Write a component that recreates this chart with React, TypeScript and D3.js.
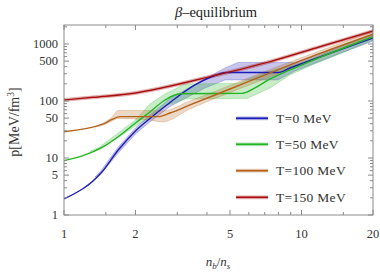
import React from "react";
import * as d3 from "d3";

// ---- data ----
const xTicksMajor = [1, 2, 5, 10, 20];
const xTicksMinor = [1.5, 3, 4, 6, 7, 8, 9, 15];
const yTicksMajor = [1, 5, 10, 50, 100, 500, 1000];
const yTicksMinor = [2, 3, 4, 6, 7, 8, 9, 20, 30, 40, 60, 70, 80, 90, 200, 300, 400, 600, 700, 800, 900, 2000];

const seriesNames = ["T=0 MeV", "T=50 MeV", "T=100 MeV", "T=150 MeV"];
const seriesColors = ["#1c1cb8", "#22b422", "#b5621b", "#a80f0f"];

const t0Nb = [1, 1.441, 1.692, 2, 2.3, 2.795, 3.56, 4.32, 4.81, 7.96, 8.94, 20];
const t0P = [1.91, 5.61, 13.8, 29.8, 49.3, 94.1, 191, 280, 316, 316, 379, 1274];

const t50Nb = [1, 1.464, 1.69, 2, 2.3, 2.663, 3.08, 5.62, 6.37, 7.37, 8.94, 20];
const t50P = [8.97, 15.8, 23.6, 41.1, 64.1, 104, 134, 136, 169, 243, 350, 1343];

const t100Nb = [1, 1.464, 1.593, 1.72, 2.488, 2.795, 3.39, 5.0, 7.37, 11.96, 20];
const t100P = [28.9, 39.5, 47.4, 53.1, 53.1, 61.6, 85.1, 162, 310, 681, 1480];

const t150Nb = [1, 1.325, 2, 2.54, 4.12, 7.37, 11.96, 20];
const t150P = [104, 116, 138, 167, 267, 490, 893, 1690];

// uncertainty bands
const b0Nb = [1.35, 1.418, 1.692, 2, 2.3, 2.795, 3.92, 4.76, 5.4, 7.96, 9.39, 10.35, 14.53, 20];
const b0Low = [4.64, 5.03, 12.2, 26.4, 42.8, 80.1, 169, 234, 234, 234, 336, 395, 681, 1129];
const b0High = [4.64, 5.68, 15.6, 33.6, 56.8, 110.7, 243, 379, 474, 474, 474, 546, 904, 1438];

const b50Nb = [1.287, 1.418, 2, 2.3, 2.663, 3.23, 5.4, 5.9, 7.37, 8.94, 10.35, 20];
const b50Low = [13.0, 14.1, 36.4, 52.4, 81.7, 108, 111, 111, 169, 286, 379, 1175];
const b50High = [13.0, 15.9, 46.4, 88.6, 133, 199, 203, 234, 336, 411, 493, 1528];

const b100Nb = [1.35, 1.464, 1.593, 1.692, 2.3, 2.586, 3.39, 7.37, 20];
const b100Low = [35.0, 37.9, 44.6, 49.3, 46.4, 42.8, 72.4, 264, 1327];
const b100High = [35.0, 41.1, 52.4, 68.1, 68.1, 66.8, 100, 357, 1657];

const b150Nb = [1, 1.325, 2, 2.54, 4.12, 7.37, 11.96, 20];
const b150Low = [98, 109, 130, 157, 251, 461, 840, 1590];
const b150High = [110.5, 123, 147, 177.5, 284, 521, 949, 1796];

const lines = [
  [t0Nb, t0P],
  [t50Nb, t50P],
  [t100Nb, t100P],
  [t150Nb, t150P],
];
const bands = [
  [b0Nb, b0Low, b0High],
  [b50Nb, b50Low, b50High],
  [b100Nb, b100Low, b100High],
  [b150Nb, b150Low, b150High],
];

const W = 380;
const H = 274;
const L = 64, R = 373, T = 25, B = 215;
const FONT = "'Liberation Serif', 'DejaVu Serif', serif";

export default function App() {
  const x = d3.scaleLog().domain([1, 20]).range([L, R]);
  const y = d3.scaleLog().domain([1, 2150]).range([B, T]);

  const lineGen = d3
    .line<[number, number]>()
    .x((d) => x(d[0]))
    .y((d) => y(d[1]))
    .curve(d3.curveMonotoneX);

  const bandGen = (smooth: boolean) =>
    d3
      .area<[number, number, number]>()
      .x((d) => x(d[0]))
      .y0((d) => y(d[1]))
      .y1((d) => y(d[2]))
      .curve(smooth ? d3.curveMonotoneX : d3.curveLinear);

  const frame = "#8a8a8a";
  const majorLen = 5;
  const minorLen = 3;

  const legendY = [118.3, 144.3, 170.7, 197.3];

  return (
    <svg
      width={W}
      height={H}
      style={{ position: "absolute", left: 0, top: 0, background: "#fff" }}
    >
      <defs>
        <clipPath id="plotclip">
          <rect x={L} y={T} width={R - L} height={B - T} />
        </clipPath>
      </defs>

      {/* title */}
      <text x={216} y={17} fontFamily={FONT} fontSize={14.5} textAnchor="middle" fill="#222">
        <tspan fontStyle="italic">β</tspan>–equilibrium
      </text>

      <g clipPath="url(#plotclip)">
        {bands.map((b, i) => {
          const pts = b[0].map((n, k) => [n, b[1][k], b[2][k]] as [number, number, number]);
          return (
            <path
              key={"b" + i}
              d={bandGen(i === 3 || i === 2)(pts) || ""}
              fill={seriesColors[i]}
              fillOpacity={i === 3 ? 0.22 : 0.25}
              stroke={seriesColors[i]}
              strokeOpacity={0.3}
              strokeWidth={0.8}
            />
          );
        })}
        {lines.map((s, i) => {
          const pts = s[0].map((n, k) => [n, s[1][k]] as [number, number]);
          return (
            <path
              key={"l" + i}
              d={lineGen(pts) || ""}
              fill="none"
              stroke={seriesColors[i]}
              strokeWidth={1.4}
            />
          );
        })}
      </g>

      {/* frame */}
      <rect x={L} y={T} width={R - L} height={B - T} fill="none" stroke={frame} strokeWidth={1} />

      {/* x ticks */}
      {xTicksMajor.map((t) => (
        <g key={"xM" + t}>
          <line x1={x(t)} x2={x(t)} y1={B} y2={B - majorLen} stroke={frame} />
          <line x1={x(t)} x2={x(t)} y1={T} y2={T + majorLen} stroke={frame} />
          <text x={x(t)} y={238} fontFamily={FONT} fontSize={12.5} textAnchor="middle" fill="#333">
            {t}
          </text>
        </g>
      ))}
      {xTicksMinor.map((t) => (
        <g key={"xm" + t}>
          <line x1={x(t)} x2={x(t)} y1={B} y2={B - minorLen} stroke={frame} />
          <line x1={x(t)} x2={x(t)} y1={T} y2={T + minorLen} stroke={frame} />
        </g>
      ))}

      {/* y ticks */}
      {yTicksMajor.map((t) => (
        <g key={"yM" + t}>
          <line x1={L} x2={L + majorLen} y1={y(t)} y2={y(t)} stroke={frame} />
          <line x1={R} x2={R - majorLen} y1={y(t)} y2={y(t)} stroke={frame} />
          <text x={58} y={y(t) + 4.3} fontFamily={FONT} fontSize={12.5} textAnchor="end" fill="#333">
            {t}
          </text>
        </g>
      ))}
      {yTicksMinor.map((t) => (
        <g key={"ym" + t}>
          <line x1={L} x2={L + minorLen} y1={y(t)} y2={y(t)} stroke={frame} />
          <line x1={R} x2={R - minorLen} y1={y(t)} y2={y(t)} stroke={frame} />
        </g>
      ))}

      {/* axis labels */}
      <text
        transform={`translate(19,${122}) rotate(-90)`}
        fontFamily={FONT}
        fontSize={14}
        textAnchor="middle"
        fill="#333"
      >
        p[MeV/fm<tspan dy={-5} fontSize={9.5}>3</tspan>
        <tspan dy={5}>]</tspan>
      </text>
      <text x={218} y={266} fontFamily={FONT} fontSize={13} textAnchor="middle" fill="#333">
        <tspan fontStyle="italic">n</tspan>
        <tspan fontStyle="italic" fontSize={9} dy={3}>b</tspan>
        <tspan dy={-3}>/</tspan>
        <tspan fontStyle="italic">n</tspan>
        <tspan fontStyle="italic" fontSize={9} dy={3}>s</tspan>
      </text>

      {/* legend */}
      {seriesNames.map((name, i) => (
        <g key={"lg" + i}>
          <line x1={236} x2={268} y1={legendY[i]} y2={legendY[i]} stroke={seriesColors[i]} strokeOpacity={0.25} strokeWidth={4} />
          <line x1={236} x2={268} y1={legendY[i]} y2={legendY[i]} stroke={seriesColors[i]} strokeWidth={1.8} />
          <text x={276} y={legendY[i] + 4.5} fontFamily={FONT} fontSize={13.5} letterSpacing={0.3} fill="#333">
            {name}
          </text>
        </g>
      ))}
    </svg>
  );
}
